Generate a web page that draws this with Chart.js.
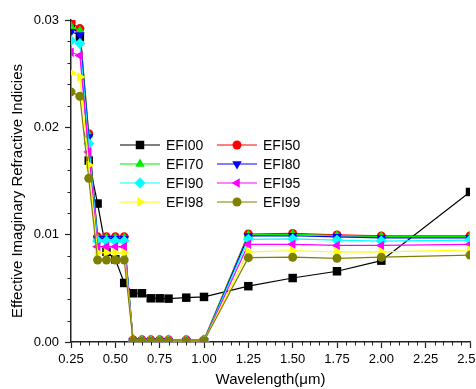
<!DOCTYPE html>
<html>
<head>
<meta charset="utf-8">
<script src="https://cdn.jsdelivr.net/npm/chart.js@4.4.1/dist/chart.umd.min.js"></script>
<style>
  html, body { margin: 0; padding: 0; background: #fff; }
  #wrap { width: 476px; height: 389px; }
</style>
</head>
<body>
<div id="wrap"><canvas id="chart" width="476" height="389"></canvas></div>
<script>
const wavelengths = [0.25, 0.3, 0.35, 0.4, 0.45, 0.5, 0.55, 0.6, 0.65, 0.7, 0.75, 0.8, 0.9, 1.0, 1.25, 1.5, 1.75, 2.0, 2.5];

const efi00 = [0.0297, 0.0284, 0.0169, 0.0129, 0.0084, 0.0077, 0.0055, 0.00454, 0.00454, 0.00407, 0.00407, 0.00404, 0.00413, 0.0042, 0.0052, 0.00596, 0.00659, 0.00758, 0.01398];
const efi50 = [0.0298, 0.0292, 0.0194, 0.0098, 0.0098, 0.0098, 0.0098, 0.0002, 0.0002, 0.0002, 0.0002, 0.0002, 0.0002, 0.0002, 0.01006, 0.01012, 0.00998, 0.00988, 0.00988];
const efi70 = [0.0294, 0.0290, 0.0193, 0.0097, 0.0097, 0.0097, 0.0097, 0.0002, 0.0002, 0.0002, 0.0002, 0.0002, 0.0002, 0.0002, 0.00998, 0.01004, 0.00992, 0.00982, 0.00982];
const efi80 = [0.0289, 0.0286, 0.0191, 0.00963, 0.00963, 0.00963, 0.00963, 0.0001, 0.0001, 0.0001, 0.0001, 0.0001, 0.0001, 0.0001, 0.00988, 0.0099, 0.0098, 0.0097, 0.0097];
const efi90 = [0.0281, 0.0278, 0.0185, 0.0094, 0.0094, 0.0094, 0.0094, 0.0001, 0.0001, 0.0001, 0.0001, 0.0001, 0.0001, 0.0001, 0.00957, 0.0096, 0.0095, 0.0094, 0.0095];
const efi95 = [0.0270, 0.0267, 0.0177, 0.00888, 0.00888, 0.00888, 0.00888, 0.0001, 0.0001, 0.0001, 0.0001, 0.0001, 0.0001, 0.0001, 0.0091, 0.0091, 0.0090, 0.0090, 0.0091];
const efi98 = [0.0251, 0.0247, 0.0165, 0.00832, 0.00832, 0.00832, 0.00832, 0.0001, 0.0001, 0.0001, 0.0001, 0.0001, 0.0001, 0.0001, 0.0084, 0.0085, 0.0084, 0.0084, 0.00857];
const efi99 = [0.0233, 0.0229, 0.01525, 0.00764, 0.00764, 0.00764, 0.00764, 0.0001, 0.0001, 0.0001, 0.0001, 0.0001, 0.0001, 0.0001, 0.00786, 0.0079, 0.0078, 0.0079, 0.0081];

const seriesNames = ['EFI00', 'EFI50', 'EFI70', 'EFI80', 'EFI90', 'EFI95', 'EFI98', 'EFI99'];
const seriesValues = [efi00, efi50, efi70, efi80, efi90, efi95, efi98, efi99];

const xTicks = [0.25, 0.5, 0.75, 1.0, 1.25, 1.5, 1.75, 2.0, 2.25, 2.5];
const yTicks = [0, 0.01, 0.02, 0.03];

const styles = [
  { color: '#000000', pointStyle: 'rect', radius: 6, rotation: 0 },
  { color: '#ff0000', pointStyle: 'circle', radius: 4.5, rotation: 0 },
  { color: '#00ee00', pointStyle: 'triangle', radius: 5.5, rotation: 0 },
  { color: '#0000ff', pointStyle: 'triangle', radius: 5.5, rotation: 180 },
  { color: '#00ffff', pointStyle: 'rectRot', radius: 5.5, rotation: 0 },
  { color: '#ff00ff', pointStyle: 'triangle', radius: 5.5, rotation: -90 },
  { color: '#ffff00', pointStyle: 'triangle', radius: 5.5, rotation: 90 },
  { color: '#808000', pointStyle: 'circle', radius: 4.5, rotation: 0 },
];

const axisColor = '#222';
const font = 'Liberation Sans, Arial, sans-serif';

const datasets = seriesNames.map((name, i) => ({
  label: name,
  data: wavelengths.map((w, j) => ({ x: w, y: seriesValues[i][j] })),
  borderColor: styles[i].color,
  backgroundColor: styles[i].color,
  pointBackgroundColor: styles[i].color,
  pointBorderColor: styles[i].color,
  pointBorderWidth: 0,
  pointStyle: styles[i].pointStyle,
  pointRadius: styles[i].radius,
  pointRotation: styles[i].rotation,
  borderWidth: 1.2,
  tension: 0,
  order: seriesNames.length - i,
}));

const minorTicks = {
  id: 'minorTicks',
  afterDraw(chart) {
    const { ctx, scales } = chart;
    const xs = scales.x;
    const ys = scales.y;
    ctx.save();
    ctx.strokeStyle = axisColor;
    ctx.lineWidth = 1;
    for (let k = 5; k <= 50; k++) {
      if (k % 5 === 0) continue;
      const px = Math.round(xs.getPixelForValue(k * 0.05)) + 0.5;
      ctx.beginPath();
      ctx.moveTo(px, xs.top);
      ctx.lineTo(px, xs.top + 3.5);
      ctx.stroke();
    }
    for (let k = 1; k < 15; k++) {
      if (k % 5 === 0) continue;
      const py = Math.round(ys.getPixelForValue(k * 0.002)) + 0.5;
      ctx.beginPath();
      ctx.moveTo(ys.right, py);
      ctx.lineTo(ys.right - 3.5, py);
      ctx.stroke();
    }
    ctx.restore();
  },
};

const yTitle = {
  id: 'yTitle',
  afterDraw(chart) {
    const { ctx } = chart;
    ctx.save();
    ctx.translate(18, 191);
    ctx.rotate(-Math.PI / 2);
    ctx.fillStyle = '#000';
    ctx.font = '15px ' + font;
    ctx.textAlign = 'center';
    ctx.textBaseline = 'middle';
    ctx.fillText('Effective Imaginary Refractive Indicies', 0, 0);
    ctx.restore();
  },
};

const innerLegend = {
  id: 'innerLegend',
  afterDraw(chart) {
    const { ctx } = chart;
    const cols = [120, 217];
    const rows = [145, 164, 183, 202];
    ctx.save();
    chart.data.datasets.forEach((ds, i) => {
      const x0 = cols[i % 2];
      const y = rows[Math.floor(i / 2)];
      ctx.strokeStyle = ds.borderColor;
      ctx.fillStyle = ds.backgroundColor;
      ctx.lineWidth = 1.2;
      ctx.beginPath();
      ctx.moveTo(x0, y);
      ctx.lineTo(x0 + 40, y);
      ctx.stroke();
      Chart.helpers.drawPoint(ctx, {
        pointStyle: ds.pointStyle,
        rotation: ds.pointRotation,
        radius: ds.pointRadius,
        borderWidth: 0,
      }, x0 + 20, y);
      ctx.fillStyle = '#000';
      ctx.font = '14px ' + font;
      ctx.textAlign = 'left';
      ctx.textBaseline = 'middle';
      ctx.fillText(ds.label, x0 + 46, y + 1);
    });
    ctx.restore();
  },
};

new Chart(document.getElementById('chart'), {
  type: 'line',
  data: { datasets },
  plugins: [minorTicks, yTitle, innerLegend],
  options: {
    responsive: false,
    animation: false,
    layout: { padding: { top: 20, right: 6, left: 0, bottom: 0 } },
    plugins: {
      legend: { display: false },
      tooltip: { enabled: false },
    },
    scales: {
      x: {
        type: 'linear',
        min: 0.25,
        max: 2.5,
        afterBuildTicks(scale) {
          scale.ticks = xTicks.map((v) => ({ value: v }));
        },
        afterFit(scale) {
          scale.height = 47;
          scale.paddingLeft = 0;
          scale.paddingRight = 0;
        },
        ticks: {
          color: '#000',
          font: { family: font, size: 13 },
          padding: 4,
          maxRotation: 0,
          autoSkip: false,
          callback: (v) => Number(v).toFixed(2),
        },
        grid: {
          drawOnChartArea: false,
          drawTicks: true,
          tickLength: 6,
          tickColor: axisColor,
          tickWidth: 1.2,
        },
        border: { display: true, color: axisColor, width: 1.5 },
        title: {
          display: true,
          text: 'Wavelength(\u03bcm)',
          color: '#000',
          font: { family: font, size: 15 },
          padding: { top: 0, bottom: 0 },
        },
      },
      y: {
        type: 'linear',
        min: 0,
        max: 0.03,
        afterBuildTicks(scale) {
          scale.ticks = yTicks.map((v) => ({ value: v }));
        },
        afterFit(scale) {
          scale.width = 71;
          scale.paddingTop = 0;
          scale.paddingBottom = 0;
        },
        ticks: {
          color: '#000',
          font: { family: font, size: 13 },
          padding: 6,
          autoSkip: false,
          callback: (v) => Number(v).toFixed(2),
        },
        grid: {
          drawOnChartArea: false,
          drawTicks: true,
          tickLength: 6,
          tickColor: axisColor,
          tickWidth: 1.2,
        },
        border: { display: true, color: axisColor, width: 1.5 },
      },
    },
  },
});
</script>
</body>
</html>
